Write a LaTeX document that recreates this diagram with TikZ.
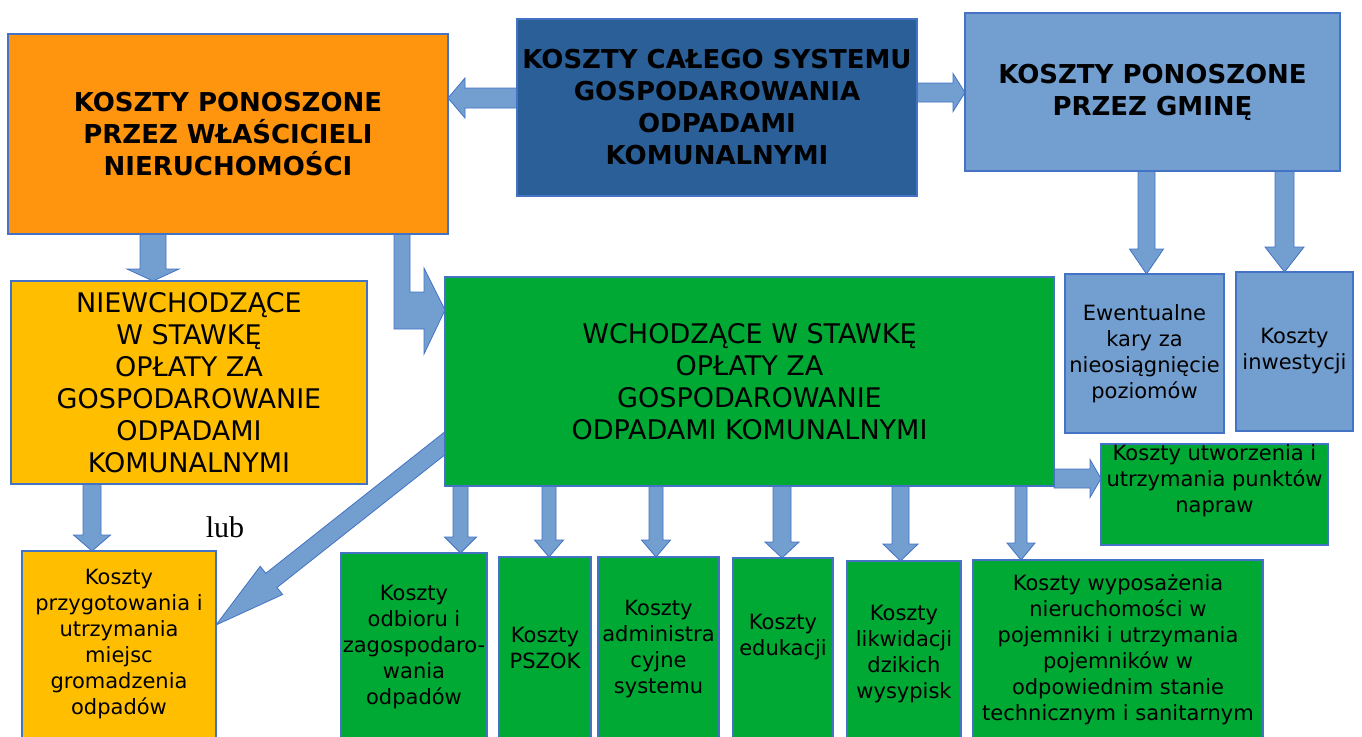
\documentclass[tikz,border=0pt]{standalone}
\usepackage{fontspec}
\setmainfont{DejaVu Sans}
\newfontfamily\lubfont{Liberation Serif}
\usetikzlibrary{calc}
\pgfdeclarelayer{bg}
\pgfsetlayers{bg,main}
\definecolor{bordercol}{HTML}{4472C4}
\definecolor{arrowfill}{HTML}{729FCF}
\definecolor{orangeA}{HTML}{FF950E}
\definecolor{darkblue}{HTML}{2B5F98}
\definecolor{lightblue}{HTML}{729FCF}
\definecolor{goldbox}{HTML}{FFBF00}
\definecolor{greenE}{HTML}{00A933}
\tikzset{
  box/.style={draw=bordercol, line width=1.6pt, inner sep=0pt, outer sep=0pt, anchor=north west, align=center},
  bigbold/.style={font=\fontsize{26}{32}\selectfont\bfseries},
  bigreg/.style={font=\fontsize{27}{32}\selectfont},
  small/.style={font=\fontsize{21}{26}\selectfont},
  blk/.style={fill=arrowfill, draw=bordercol, line width=0.8pt, line join=miter},
  txt/.style={anchor=north, align=center, inner sep=0pt, small,
    execute at begin node={\vrule height 18.2pt depth 0pt width 0pt},
    execute at end node={\vrule height 0pt depth 7.8pt width 0pt}}
}
\newcommand\BlkDown[6]{\draw[blk] let \p1=(#1.south), \p2=(#2.north) in
  ({#3-#4},\y1) -- ({#3+#4},\y1) -- ({#3+#4},\y2+#6pt) -- ({#3+#5},\y2+#6pt) -- (#3,\y2)
  -- ({#3-#5},\y2+#6pt) -- ({#3-#4},\y2+#6pt) -- cycle;}
\newcommand\BlkRight[6]{\draw[blk] let \p1=(#1.east), \p2=(#2.west) in
  (\x1,{#3-#4}) -- (\x2-#6pt,{#3-#4}) -- (\x2-#6pt,{#3-#5}) -- (\x2,#3)
  -- (\x2-#6pt,{#3+#5}) -- (\x2-#6pt,{#3+#4}) -- (\x1,{#3+#4}) -- cycle;}
\newcommand\BlkLeft[6]{\draw[blk] let \p1=(#1.west), \p2=(#2.east) in
  (\x1,{#3-#4}) -- (\x2+#6pt,{#3-#4}) -- (\x2+#6pt,{#3-#5}) -- (\x2,#3)
  -- (\x2+#6pt,{#3+#5}) -- (\x2+#6pt,{#3+#4}) -- (\x1,{#3+#4}) -- cycle;}
\begin{document}
\begin{tikzpicture}[x=1pt,y=-1pt]
\useasboundingbox (0,0) rectangle (1362,736);
\begin{pgfonlayer}{bg}
\fill[white] (0,0) rectangle (1362,736);
\end{pgfonlayer}
\clip (0,0) rectangle (1362,736);
% main boxes
\node[box, fill=orangeA, minimum width=440pt, minimum height=200pt, bigbold] (A) at (8,34)
  {KOSZTY PONOSZONE\\PRZEZ WŁAŚCICIELI\\NIERUCHOMOŚCI};
\node[box, fill=darkblue, minimum width=400pt, minimum height=177pt, bigbold] (B) at (517,19)
  {KOSZTY CAŁEGO SYSTEMU\\GOSPODAROWANIA\\ODPADAMI\\KOMUNALNYMI};
\node[box, fill=lightblue, minimum width=375pt, minimum height=158pt, bigbold] (C) at (965,13)
  {KOSZTY PONOSZONE\\PRZEZ GMINĘ};
\node[box, fill=goldbox, minimum width=356pt, minimum height=203pt, bigreg] (D) at (11,281)
  {NIEWCHODZĄCE\\W STAWKĘ\\OPŁATY ZA\\GOSPODAROWANIE\\ODPADAMI\\KOMUNALNYMI};
\node[box, fill=greenE, minimum width=609pt, minimum height=209pt, bigreg] (E) at (445,277)
  {WCHODZĄCE W STAWKĘ\\OPŁATY ZA\\GOSPODAROWANIE\\ODPADAMI KOMUNALNYMI};
\node[box, fill=lightblue, minimum width=159pt, minimum height=159pt, small] (F) at (1065,274)
  {Ewentualne\\kary za\\nieosiągnięcie\\poziomów};
\node[box, fill=lightblue, minimum width=117pt, minimum height=159pt, small] (G) at (1236,272)
  {Koszty\\inwestycji};
\node[box, fill=greenE, minimum width=227pt, minimum height=101pt] (H) at (1101,444) {};
\node[box, fill=goldbox, minimum width=194pt, minimum height=220pt] (I) at (22,551) {};
\node[box, fill=greenE, minimum width=146pt, minimum height=220pt] (J) at (341,553) {};
\node[box, fill=greenE, minimum width=92pt, minimum height=220pt] (K) at (499,557) {};
\node[box, fill=greenE, minimum width=121pt, minimum height=220pt] (L) at (598,557) {};
\node[box, fill=greenE, minimum width=100pt, minimum height=220pt] (M) at (733,558) {};
\node[box, fill=greenE, minimum width=114pt, minimum height=220pt] (N) at (847,561) {};
\node[box, fill=greenE, minimum width=290pt, minimum height=220pt] (O) at (973,560) {};
% texts of the small boxes
\node[txt] (tH) at (1214.5,444.8) {Koszty utworzenia i\\utrzymania punktów\\napraw};
\node[txt] (tI) at (119,568.8) {Koszty\\przygotowania i\\utrzymania\\miejsc\\gromadzenia\\odpadów};
\node[txt] (tJ) at (414,584.8) {Koszty\\odbioru i\\zagospodaro-\\wania\\odpadów};
\node[txt] (tK) at (545,626.8) {Koszty\\PSZOK};
\node[txt] (tL) at (658.5,599.8) {Koszty\\administra\\cyjne\\systemu};
\node[txt] (tM) at (783,613.8) {Koszty\\edukacji};
\node[txt] (tN) at (904,604.8) {Koszty\\likwidacji\\dzikich\\wysypisk};
\node[txt] (tO) at (1118,574.8) {Koszty wyposażenia\\nieruchomości w\\pojemniki i utrzymania\\pojemników w\\odpowiednim stanie\\technicznym i sanitarnym};
\node[anchor=base, inner sep=0pt, font=\lubfont\fontsize{30}{36}\selectfont] (lub) at (225,537) {lub};
% block arrows
\begin{pgfonlayer}{bg}
\BlkLeft{B}{A}{98}{10}{20}{17}
\BlkRight{B}{C}{92.5}{9.5}{19}{12}
\BlkRight{E}{H}{478.5}{9.5}{19}{11}
\BlkDown{A}{D}{153}{13}{26}{12}
\BlkDown{D}{I}{92}{9}{18.5}{16}
\BlkDown{E}{J}{460.5}{7.5}{16}{16}
\BlkDown{E}{K}{549}{7}{14.5}{17}
\BlkDown{E}{L}{656}{7}{14.5}{17}
\BlkDown{E}{M}{782}{9}{17}{16}
\BlkDown{E}{N}{900.5}{8.5}{17.5}{17}
\BlkDown{E}{O}{1021}{6}{14}{17}
\BlkDown{C}{F}{1146.5}{8.5}{17}{25}
\BlkDown{C}{G}{1284.5}{9.5}{19.5}{25}
\draw[blk] let \p1=(A.south), \p2=(E.west) in
  (394,\y1) -- (410,\y1) -- (410,292) -- (424,292) -- (424,268) -- (\x2,310)
  -- (424,354) -- (424,329) -- (394,329) -- cycle;
\draw[blk] (444.7,431.9) -- (265.8,573.3) -- (260.2,566.3) -- (I.east |- 0,625)
  -- (282.6,594.5) -- (277,587.5) -- (455.9,446.1) -- cycle;
\end{pgfonlayer}
\end{tikzpicture}
\end{document}
